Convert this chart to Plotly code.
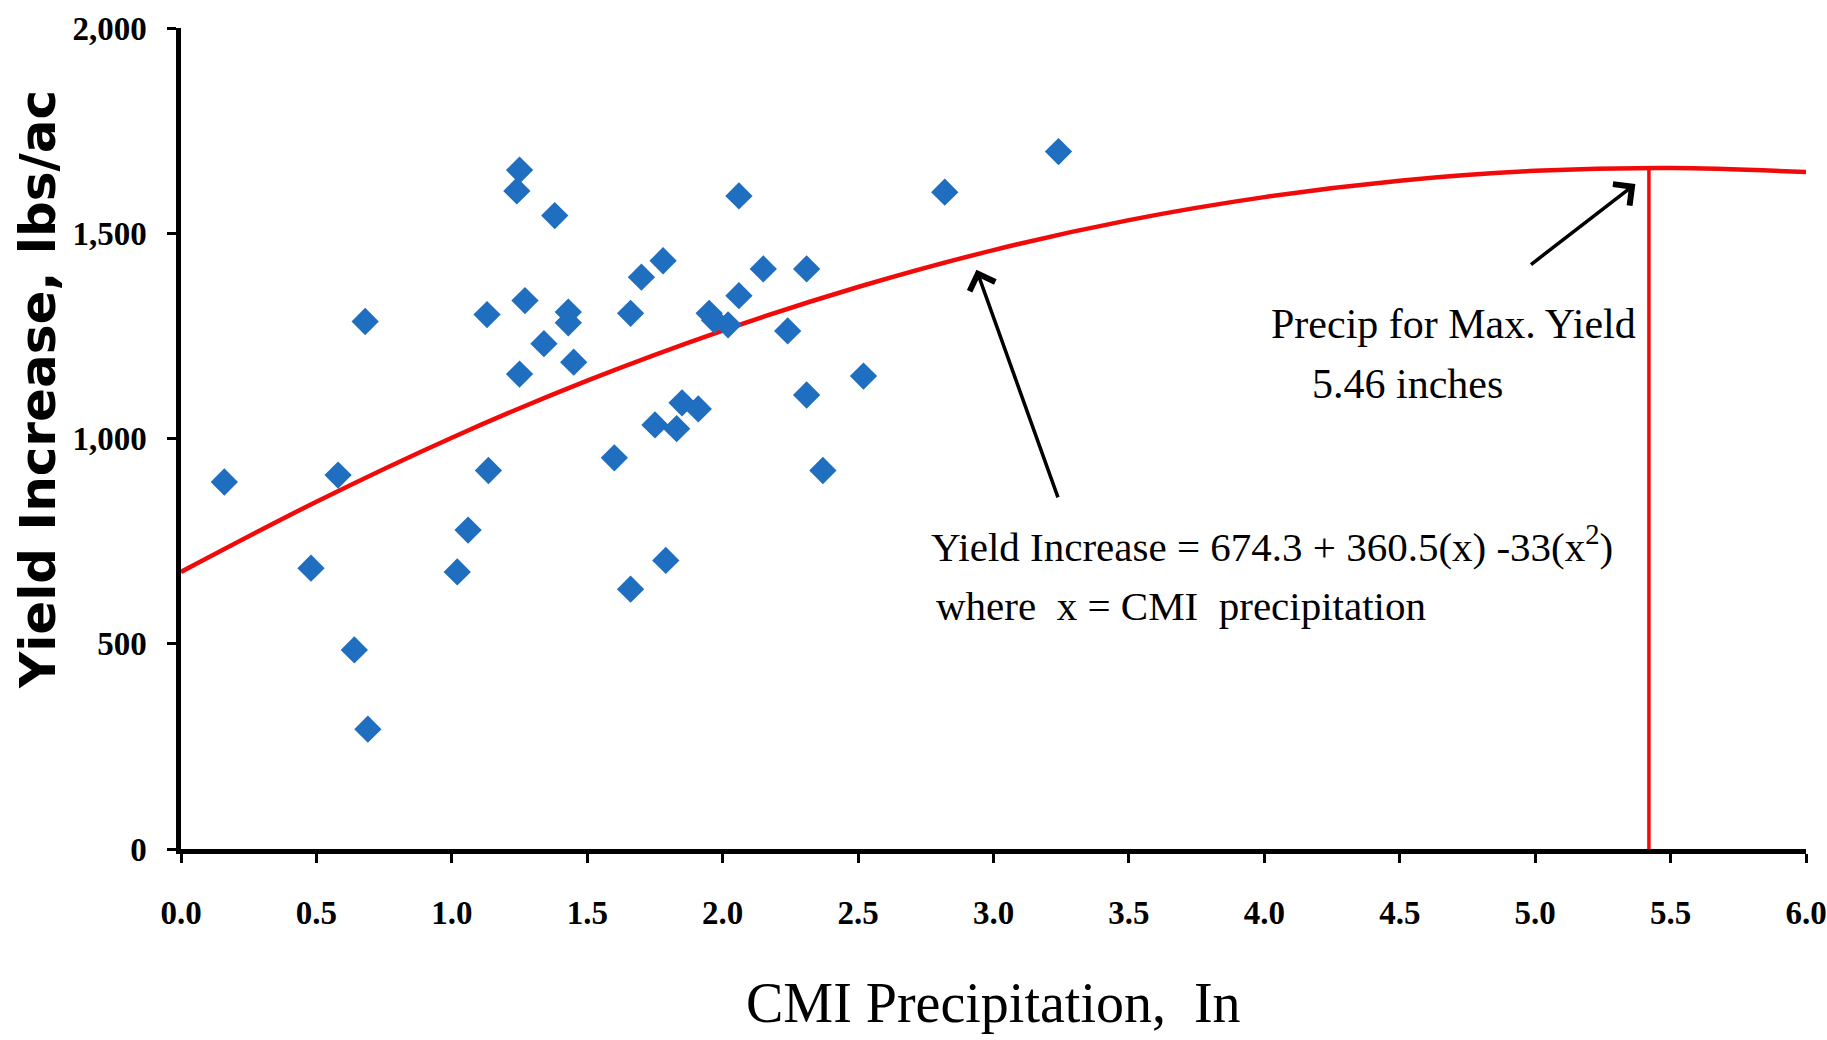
import plotly.graph_objects as go

# ---- data ----
precip_in = [0.16, 0.48, 0.58, 0.68, 0.64, 0.69, 1.02, 1.06, 1.13, 1.135,
             1.25, 1.24, 1.27, 1.25, 1.34, 1.38, 1.43, 1.43, 1.45, 1.60,
             1.66, 1.66, 1.70, 1.75, 1.78, 1.79, 1.83, 1.85, 1.91, 1.95,
             1.97, 2.02, 2.06, 2.06, 2.15, 2.24, 2.31, 2.31, 2.37, 2.52,
             2.82, 3.24]
yield_increase = [894, 684, 911, 1285, 485, 292, 675, 777, 1302, 922,
                  1654, 1603, 1336, 1157, 1231, 1543, 1308, 1282, 1186, 953,
                  1305, 633, 1393, 1033, 1433, 703, 1024, 1087, 1072, 1305,
                  1288, 1277, 1591, 1348, 1413, 1262, 1413, 1106, 922, 1152,
                  1600, 1699]

fit_x = [0.0, 0.5, 1.0, 1.5, 2.0, 2.5, 3.0, 3.5, 4.0, 4.5, 5.0, 5.5, 6.0]
fit_y = [675, 846, 1002, 1141, 1263, 1369, 1459, 1532, 1588, 1628, 1652, 1659, 1649]

max_line_x = [5.42, 5.42]
max_line_y = [0, 1659]

x_ticks = [0.0, 0.5, 1.0, 1.5, 2.0, 2.5, 3.0, 3.5, 4.0, 4.5, 5.0, 5.5, 6.0]
y_ticks = [0, 500, 1000, 1500, 2000]

RED = "#F00A0A"
BLUE = "#1F6EBF"
SERIF = "Liberation Serif, Times New Roman, serif"

fig = go.Figure()

fig.add_trace(go.Scatter(x=fit_x, y=fit_y, mode="lines",
                         line=dict(color=RED, width=4.5, shape="spline", smoothing=1.0),
                         hoverinfo="skip", showlegend=False, cliponaxis=True))
fig.add_trace(go.Scatter(x=max_line_x, y=max_line_y, mode="lines",
                         line=dict(color=RED, width=3.5),
                         hoverinfo="skip", showlegend=False))
fig.add_trace(go.Scatter(x=precip_in, y=yield_increase, mode="markers",
                         marker=dict(symbol="diamond", size=21, color=BLUE,
                                     line=dict(width=0)),
                         showlegend=False))

annotations = [
    # equation text
    dict(x=2.76, y=744, xref="x", yref="y", xanchor="left", yanchor="middle",
         text="Yield Increase = 674.3 + 360.5(x) -33(x<sup>2</sup>)",
         showarrow=False, font=dict(family=SERIF, size=41, color="black")),
    dict(x=2.78, y=593, xref="x", yref="y", xanchor="left", yanchor="middle",
         text="where  x = CMI  precipitation",
         showarrow=False, font=dict(family=SERIF, size=41, color="black")),
    # max-yield text
    dict(x=4.70, y=1280, xref="x", yref="y", xanchor="center", yanchor="middle",
         text="Precip for Max. Yield",
         showarrow=False, font=dict(family=SERIF, size=42, color="black")),
    dict(x=4.53, y=1133, xref="x", yref="y", xanchor="center", yanchor="middle",
         text="5.46 inches",
         showarrow=False, font=dict(family=SERIF, size=42, color="black")),
    # arrows
    dict(x=2.937, y=1411, ax=3.24, ay=853, xref="x", yref="y", axref="x", ayref="y",
         text="", showarrow=True, arrowhead=4, arrowsize=1.5, arrowwidth=3.5,
         arrowcolor="black"),
    dict(x=5.37, y=1620, ax=4.979, ay=1421, xref="x", yref="y", axref="x", ayref="y",
         text="", showarrow=True, arrowhead=4, arrowsize=1.5, arrowwidth=3.5,
         arrowcolor="black"),
    # axis titles
    dict(x=0.5, y=-0.188, xref="paper", yref="paper", xanchor="center", yanchor="middle",
         text="CMI Precipitation,\u00a0 In", showarrow=False,
         font=dict(family=SERIF, size=56, color="black")),
    dict(x=-0.088, y=0.559, xref="paper", yref="paper", xanchor="center", yanchor="middle",
         text="<b>Yield Increase, lbs/ac</b>", textangle=-90, showarrow=False,
         font=dict(family="DejaVu Sans, Verdana, sans-serif", size=50, color="black")),
]

fig.update_layout(
    width=1827, height=1040,
    margin=dict(l=181, r=21, t=28, b=191, autoexpand=False),
    paper_bgcolor="white", plot_bgcolor="white",
    annotations=annotations,
    xaxis=dict(range=[0, 6], tickvals=x_ticks, ticktext=[f"{v:.1f}" for v in x_ticks],
               automargin=False,
               showgrid=False, zeroline=False, showline=True, linecolor="black",
               linewidth=4.5, ticks="outside", ticklen=9, tickwidth=3, tickcolor="black",
               ticklabelstandoff=22,
               tickfont=dict(family=SERIF, size=33, color="black", weight="bold")),
    yaxis=dict(range=[0, 2000], tickvals=y_ticks, ticktext=[f"{v:,}" for v in y_ticks],
               automargin=False,
               showgrid=False, zeroline=False, showline=True, linecolor="black",
               linewidth=4.5, ticks="outside", ticklen=9, tickwidth=3, tickcolor="black",
               ticklabelstandoff=14,
               tickfont=dict(family=SERIF, size=33, color="black", weight="bold")),
)

fig.write_html("out.html")
